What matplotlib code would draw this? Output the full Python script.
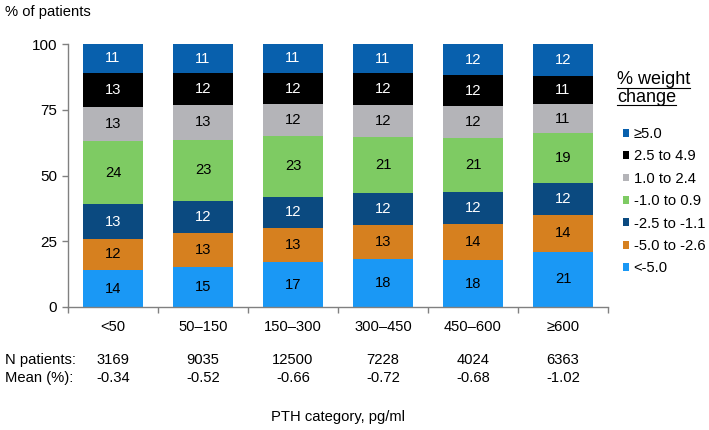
import matplotlib
matplotlib.use("Agg")
import matplotlib.pyplot as plt
import numpy as np
from matplotlib.lines import Line2D
import matplotlib.transforms as mtransforms

plt.rcParams['font.family'] = ['Liberation Sans', 'DejaVu Sans']

categories = ['<50', '50–150', '150–300', '300–450', '450–600', '≥600']
n_patients = ['3169', '9035', '12500', '7228', '4024', '6363']
mean_pct = ['-0.34', '-0.52', '-0.66', '-0.72', '-0.68', '-1.02']

# stacked from bottom to top
series_names = ['<-5.0', '-5.0 to -2.6', '-2.5 to -1.1', '-1.0 to 0.9',
                '1.0 to 2.4', '2.5 to 4.9', '≥5.0']
lt_m5 = [14, 15, 17, 18, 18, 21]
m5_m26 = [12, 13, 13, 13, 14, 14]
m25_m11 = [13, 12, 12, 12, 12, 12]
m1_09 = [24, 23, 23, 21, 21, 19]
p1_24 = [13, 13, 12, 12, 12, 11]
p25_49 = [13, 12, 12, 12, 12, 11]
ge5 = [11, 11, 11, 11, 12, 12]
series_values = [lt_m5, m5_m26, m25_m11, m1_09, p1_24, p25_49, ge5]

colors = ['#1a98f5', '#d6801f', '#0b4a80', '#7ecb63', '#b4b4b8', '#000000', '#0860ad']
text_colors = ['black', 'black', 'white', 'black', 'black', 'white', 'white']

W, H = 709, 430
fig = plt.figure(figsize=(W / 100, H / 100), dpi=100)
ax = fig.add_axes([68 / W, 1 - 307 / H, 540 / W, 263 / H])

FS = 10.6
x = np.arange(len(categories)) + 0.5
totals = np.sum(np.array(series_values, dtype=float), axis=0)
bottom = np.zeros(len(categories))
handles = []
for vals, name, c, tc in zip(series_values, series_names, colors, text_colors):
    vals = np.array(vals, dtype=float)
    h = vals / totals * 100.0  # 100% stacked
    b = ax.bar(x, h, width=0.67, bottom=bottom, color=c, label=name,
               edgecolor='none', zorder=2)
    handles.append(b)
    for xi, v, hh, bt in zip(x, vals, h, bottom):
        ax.text(xi, bt + hh / 2, f'{int(v)}', ha='center', va='center',
                color=tc, fontsize=FS, zorder=3)
    bottom += h

ax.set_xlim(0, len(categories))
ax.set_ylim(0, 100)
ax.set_yticks([0, 25, 50, 75, 100])
ax.set_xticks(np.arange(len(categories) + 1))
ax.set_xticklabels([])
ax.set_xticks(x, minor=True)
ax.set_xticklabels(categories, minor=True)
ax.tick_params(axis='x', which='minor', length=0, pad=9.5, labelsize=FS)
ax.tick_params(axis='x', which='major', length=4, color='#808080', width=1)
ax.tick_params(axis='y', length=4, color='#808080', width=1, labelsize=11, pad=4)
for s in ['top', 'right']:
    ax.spines[s].set_visible(False)
for s in ['left', 'bottom']:
    ax.spines[s].set_color('#808080')
    ax.spines[s].set_linewidth(1)

fig.text(5 / W, 1 - 12 / H, '% of patients', ha='left', va='center', fontsize=FS)

trans = mtransforms.blended_transform_factory(ax.transData, fig.transFigure)
fig.text(5 / W, 1 - 360 / H, 'N patients:', ha='left', va='center', fontsize=FS)
fig.text(5 / W, 1 - 378 / H, 'Mean (%):', ha='left', va='center', fontsize=FS)
for xi, n, m in zip(x, n_patients, mean_pct):
    ax.text(xi, 1 - 360 / H, n, transform=trans, ha='center', va='center', fontsize=FS)
    ax.text(xi, 1 - 378 / H, m, transform=trans, ha='center', va='center', fontsize=FS)

fig.text(338 / W, 1 - 417 / H, 'PTH category, pg/ml', ha='center', va='center', fontsize=FS)

# legend title (underlined)
t1 = fig.text(617 / W, 1 - 80 / H, '% weight', ha='left', va='center', fontsize=13)
t2 = fig.text(617 / W, 1 - 97 / H, 'change', ha='left', va='center', fontsize=13)

leg = fig.legend(handles[::-1], series_names[::-1], loc='upper left',
                 bbox_to_anchor=(623 / W, 1 - 127 / H), frameon=False,
                 fontsize=FS, handlelength=0.42, handleheight=0.42,
                 handletextpad=0.3, labelspacing=0.57, borderpad=0, borderaxespad=0)

fig.canvas.draw()
r = fig.canvas.get_renderer()
for t in (t1, t2):
    bb = t.get_window_extent(r)
    y = bb.y0 + 1
    fig.add_artist(Line2D([bb.x0 / W, bb.x1 / W], [y / H, y / H],
                          transform=fig.transFigure, color='black', lw=0.8))

fig.savefig('out.png', dpi=100)
